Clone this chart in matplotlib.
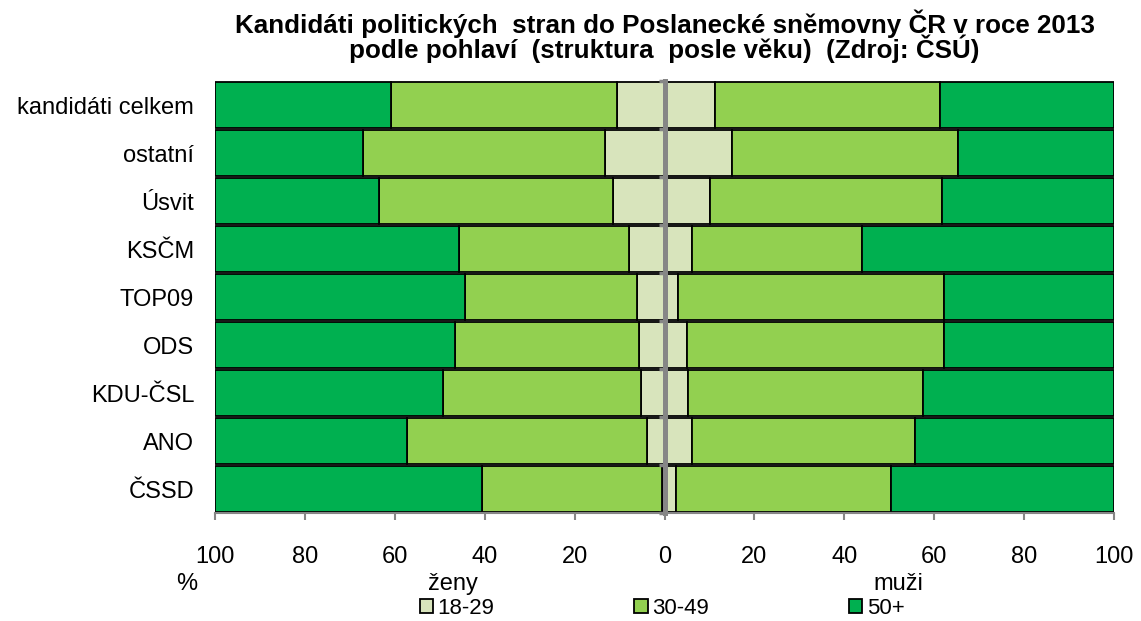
import matplotlib
matplotlib.use("Agg")
import matplotlib.pyplot as plt
import numpy as np

plt.rcParams['font.family'] = ['Liberation Sans', 'DejaVu Sans']

categories = ["kandidáti celkem", "ostatní", "Úsvit", "KSČM", "TOP09",
              "ODS", "KDU-ČSL", "ANO", "ČSSD"]
age_groups = ["18-29", "30-49", "50+"]

women_18_29 = [10.6, 13.2, 11.5, 7.9, 6.2, 5.7, 5.3, 3.9, 0.5]
women_30_49 = [50.3, 53.9, 52.0, 37.9, 38.2, 40.9, 44.0, 53.4, 40.0]
women_50 = [39.1, 32.9, 36.5, 54.2, 55.6, 53.4, 50.7, 42.7, 59.5]

men_18_29 = [11.2, 15.1, 10.2, 6.2, 3.1, 4.9, 5.3, 6.2, 2.6]
men_30_49 = [50.2, 50.2, 51.6, 37.8, 59.1, 57.3, 52.1, 49.5, 47.7]
men_50 = [38.6, 34.7, 38.2, 56.0, 37.8, 37.8, 42.6, 44.3, 49.7]

tick_values = [-100, -80, -60, -40, -20, 0, 20, 40, 60, 80, 100]
tick_labels = ["100", "80", "60", "40", "20", "0", "20", "40", "60", "80", "100"]

colors = ["#D8E4BC", "#92D050", "#00B050"]
gray = "#868686"

fig = plt.figure(figsize=(11.41, 6.21), dpi=100)
ax = fig.add_axes([215/1141, 1-513/621, (1114-215)/1141, (513-81)/621])

n = len(categories)
y = np.arange(n)[::-1]
h = 0.965

women = [np.array(women_18_29), np.array(women_30_49), np.array(women_50)]
men = [np.array(men_18_29), np.array(men_30_49), np.array(men_50)]

cum = np.zeros(n)
handles = []
for vals, c, lab in zip(women, colors, age_groups):
    b = ax.barh(y, -vals, left=-cum, height=h, color=c, edgecolor="black",
                linewidth=1.3, label=lab)
    handles.append(b)
    cum = cum + vals
cum = np.zeros(n)
for vals, c in zip(men, colors):
    ax.barh(y, vals, left=cum, height=h, color=c, edgecolor="black",
            linewidth=1.3)
    cum = cum + vals

ax.set_xlim(-100, 100)
ax.set_ylim(-0.5, n - 0.5)
ax.set_yticks(y)
ax.set_yticklabels(categories, fontsize=17)
ax.tick_params(axis='y', length=0, pad=15)
ax.set_xticks(tick_values)
ax.set_xticklabels(tick_labels, fontsize=17)
ax.tick_params(axis='x', direction='out', length=5, width=1.5, color=gray, pad=19)

for s in ["top", "right", "left"]:
    ax.spines[s].set_visible(False)
ax.spines["bottom"].set_color(gray)
ax.spines["bottom"].set_linewidth(1.5)

# zero axis with category boundary ticks
sec = ax.secondary_yaxis(0.5)
sec.set_zorder(5)
sec.set_alignment('left')
sec.set_yticks(np.arange(n + 1) - 0.5)
sec.set_yticklabels([])
sec.tick_params(axis='y', which='both', left=True, right=False,
                length=4, width=2.5, color=gray, direction='out')
for s in ["top", "right", "bottom"]:
    sec.spines[s].set_visible(False)
sec.spines["left"].set_visible(True)
sec.spines["left"].set_color(gray)
sec.spines["left"].set_linewidth(3.6)

fig.text(664.5/1141, 1-36/621,
         "Kandidáti politických  stran do Poslanecké sněmovny ČR v roce 2013\n"
         "podle pohlaví  (struktura  posle věku)  (Zdroj: ČSÚ)",
         ha="center", va="center", fontsize=18.7, fontweight="bold",
         linespacing=0.86)

ax.text((187-215)/899, (513-584)/432, "%", transform=ax.transAxes,
        ha="center", va="center", fontsize=17)
ax.text((453-215)/899, (513-584)/432, "ženy", transform=ax.transAxes,
        ha="center", va="center", fontsize=17)
ax.text((898-215)/899, (513-584)/432, "muži", transform=ax.transAxes,
        ha="center", va="center", fontsize=17)

fig.legend(handles=handles, labels=age_groups, loc="center",
           bbox_to_anchor=(662/1141, 1-608/621), ncol=3, frameon=False,
           fontsize=16, handlelength=0.6, handleheight=0.6,
           handletextpad=0.2, columnspacing=6.3, borderpad=0, borderaxespad=0)

fig.savefig("out.png", dpi=100)
